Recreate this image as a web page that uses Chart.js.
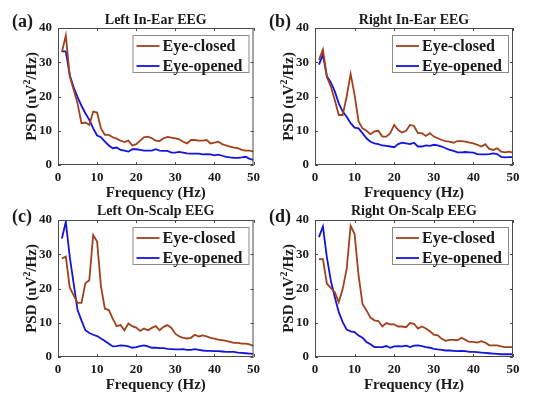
<!DOCTYPE html>
<html>
<head>
<meta charset="utf-8">
<script src="https://cdn.jsdelivr.net/npm/chart.js@4/dist/chart.umd.min.js"></script>
<style>
  html, body { margin: 0; padding: 0; background: #fff; }
  #wrap { position: relative; width: 550px; height: 397px; overflow: hidden; }
  .panel { position: absolute; }
</style>
</head>
<body>
<div id="wrap">
  <div class="panel" style="left:0;top:0;width:265px;height:200px"><canvas id="pa"></canvas></div>
  <div class="panel" style="left:265px;top:0;width:285px;height:200px"><canvas id="pb"></canvas></div>
  <div class="panel" style="left:0;top:200px;width:265px;height:197px"><canvas id="pc"></canvas></div>
  <div class="panel" style="left:265px;top:200px;width:285px;height:197px"><canvas id="pd"></canvas></div>
</div>
<script>
const freq = [1,2,3,4,5,6,7,8,9,10,11,12,13,14,15,16,17,18,19,20,21,22,23,24,25,
  26,27,28,29,30,31,32,33,34,35,36,37,38,39,40,41,42,43,44,45,46,47,48,49,50];

const leftEarClosed = [33,37.8,26,22,18,12.2,12.4,11.7,15.6,15.3,10.7,8.8,8.8,8.1,7.7,7.1,6.7,7.1,5.7,6.1,
  7.1,8.1,8.3,7.8,7.1,7.0,7.8,8.2,8.0,7.8,7.5,6.8,6.3,7.3,7.3,7.1,7.1,7.3,6.3,6.5,
  6.8,6.1,5.7,5.4,5.1,4.9,4.4,4.2,4.2,3.9];
const leftEarOpened = [33.2,33.2,26.3,22.7,19.8,17.3,15.1,13.2,10.7,8.6,8.1,6.8,5.7,4.9,5.1,4.4,4.2,3.9,4.6,4.6,
  4.4,4.2,4.2,4.2,4.6,4.2,4.1,4.1,3.6,3.6,3.8,3.6,3.4,3.3,3.3,3.3,3.1,3.2,3.1,2.8,
  3.0,2.7,2.4,2.2,2.1,2.1,2.2,2.4,1.8,1.5];

const rightEarClosed = [30.7,33.7,25.7,22.9,19,14.6,14.6,20,26.6,20.5,12.7,10.7,10,9,9.8,10,8.3,8.3,9.3,11.7,
  10.2,9.5,10,11.7,11.4,9.3,9.3,8.5,9.3,8.3,7.8,7.3,7.0,6.8,6.5,7.0,7.0,6.8,6.5,6.3,
  5.9,5.4,6.1,4.7,4.4,4.9,3.9,3.7,3.9,3.6];
const rightEarOpened = [29.3,32.2,25.9,24.1,21.5,18,15.6,14.1,12.2,10.9,10.7,9.3,7.8,6.8,6.3,6.1,5.7,5.6,5.4,5.2,
  6.1,6.5,6.3,6.1,6.5,5.4,5.4,5.7,5.6,5.9,5.7,5.4,4.9,4.4,4.1,3.7,3.7,3.8,3.7,3.6,
  3.2,3.1,3.1,3.2,3.4,3.2,2.4,2.2,2.3,2.3];

const leftScalpClosed = [28.8,29.3,20.3,18,15.8,15.8,21.5,22.4,35.6,33.7,20.5,14.1,13.7,11.2,9,9.3,7.8,9.8,9,8.6,
  7.6,8.3,7.8,8.5,9,7.8,8.8,9.3,8.5,6.8,6,5.6,5.4,5.6,6.5,6,6.3,6,5.6,5.4,
  5.1,4.9,4.7,4.4,4.1,4.1,3.9,3.9,3.7,3.2];
const leftScalpOpened = [34.6,39.5,29.3,21.5,13.7,10.7,7.8,7,6.5,6.1,5.4,4.7,3.9,3.1,3.2,3.4,3.3,3.1,2.7,2.9,
  3.2,3.4,3.1,2.7,2.7,2.6,2.6,2.4,2.3,2.2,2.2,2.3,2.1,2.1,2.3,2.1,1.9,1.8,1.8,1.7,
  1.7,1.6,1.5,1.5,1.5,1.3,1.2,1.1,1.0,0.9];

const rightScalpClosed = [28.6,28.6,21.4,20.2,18.9,16,19.9,25.7,38.3,35.9,23.8,15.5,13.6,11.5,10.7,10.5,8.9,9.9,9.5,9.5,
  8.9,8.9,8.7,9.9,9.7,8.3,8.9,8.3,7.5,6.5,6.3,5.3,4.7,5,5,4.9,5.6,5,4.4,4.4,
  4.2,4.6,4.2,3.4,3.4,3.4,3.1,2.9,2.9,2.9];
const rightScalpOpened = [35,38.1,29.1,22.3,17.5,13.1,10.2,8,7.5,7.3,6.3,5.6,4.4,3.7,2.9,2.9,2.9,3.2,2.7,3.1,
  3.2,3.1,3.3,2.9,3.3,3.4,3.2,2.9,2.7,2.4,2.2,2.1,1.9,1.9,1.8,1.7,1.8,1.7,1.5,1.5,
  1.4,1.3,1.2,1.1,1.0,0.9,0.8,0.8,0.8,0.8];

const xTicks = [0,10,20,30,40,50];
const yTicks = [0,10,20,30,40];
const seriesNames = ["Eye-closed", "Eye-opened"];

const BROWN = "#a3401c";
const BLUE = "#1414dc";
const SERIF = "'Liberation Serif', 'Times New Roman', serif";
const INK = "#1a1a1a";

const pts = (vals) => freq.map((f, i) => ({x: f, y: vals[i]}));

// text, box, inward ticks and legend drawn on top of the library's scales
const decor = {
  id: "decor",
  afterDraw(chart) {
    const o = chart.options.plugins.decor;
    const a = chart.chartArea, ctx = chart.ctx;
    const xs = chart.scales.x, ys = chart.scales.y;
    ctx.save();
    ctx.strokeStyle = "#4a4a4a";
    ctx.lineWidth = 1;
    ctx.strokeRect(a.left + 0.5, a.top + 0.5, a.right - a.left - 1, a.bottom - a.top - 1);
    ctx.beginPath();
    xTicks.forEach((v) => {
      const px = Math.round(xs.getPixelForValue(v)) + 0.5;
      ctx.moveTo(px, a.bottom); ctx.lineTo(px, a.bottom - 3);
      ctx.moveTo(px, a.top); ctx.lineTo(px, a.top + 3);
    });
    yTicks.forEach((v) => {
      const py = Math.round(ys.getPixelForValue(v)) + 0.5;
      ctx.moveTo(a.left, py); ctx.lineTo(a.left + 3, py);
      ctx.moveTo(a.right, py); ctx.lineTo(a.right - 3, py);
    });
    ctx.stroke();

    ctx.fillStyle = INK;
    ctx.textBaseline = "middle";
    ctx.textAlign = "center";
    ctx.font = "bold 14px " + SERIF;
    ctx.fillText(o.title, (a.left + a.right) / 2, a.top - o.titleGap);

    ctx.textAlign = "left";
    ctx.font = "bold 18px " + SERIF;
    ctx.fillText(o.tag, o.tagX, a.top - o.tagGap);

    ctx.textAlign = "center";
    ctx.font = "bold 15px " + SERIF;
    ctx.fillText("Frequency (Hz)", (a.left + a.right) / 2, a.bottom + 28);

    // rotated y label with superscript
    ctx.save();
    ctx.translate(a.left - 26, (a.top + a.bottom) / 2);
    ctx.rotate(-Math.PI / 2);
    const parts = [["PSD (uV", 15, 0], ["2", 10, -5], ["/Hz)", 15, 0]];
    let total = 0;
    parts.forEach((p) => { ctx.font = "bold " + p[1] + "px " + SERIF; total += ctx.measureText(p[0]).width; });
    let cx = -total / 2;
    ctx.textAlign = "left";
    parts.forEach((p) => {
      ctx.font = "bold " + p[1] + "px " + SERIF;
      ctx.fillText(p[0], cx, p[2]);
      cx += ctx.measureText(p[0]).width;
    });
    ctx.restore();

    // legend box
    const bx = a.right - 121, by = a.top + 7, bw = 117, bh = 38;
    ctx.fillStyle = "#fff";
    ctx.fillRect(bx, by, bw, bh);
    ctx.strokeStyle = "#8a8a8a";
    ctx.strokeRect(bx + 0.5, by + 0.5, bw - 1, bh - 1);
    ctx.font = "bold 16px " + SERIF;
    ctx.textAlign = "left";
    chart.data.datasets.forEach((ds, i) => {
      const ly = by + 11 + i * 20;
      ctx.strokeStyle = ds.borderColor;
      ctx.lineWidth = 1.8;
      ctx.beginPath(); ctx.moveTo(bx + 4, ly); ctx.lineTo(bx + 27, ly); ctx.stroke();
      ctx.fillStyle = INK;
      ctx.fillText(ds.label, bx + 30, ly + 1);
    });
    ctx.restore();
  }
};

function panel(id, cfg) {
  const el = document.getElementById(id);
  const W = cfg.w, H = cfg.h;
  el.width = W; el.height = H;
  el.style.width = W + "px"; el.style.height = H + "px";
  new Chart(el, {
    type: "line",
    data: {
      datasets: [
        { label: seriesNames[0], data: pts(cfg.closed), borderColor: BROWN, borderWidth: 1.8, pointRadius: 0, tension: 0 },
        { label: seriesNames[1], data: pts(cfg.opened), borderColor: BLUE, borderWidth: 1.8, pointRadius: 0, tension: 0 },
      ],
    },
    options: {
      responsive: false,
      animation: false,
      devicePixelRatio: 1,
      layout: { padding: { left: 0, top: cfg.T, right: W - cfg.R, bottom: 0 } },
      plugins: {
        legend: { display: false },
        tooltip: { enabled: false },
        decor: { title: cfg.title, tag: cfg.tag, tagX: cfg.tagX, titleGap: cfg.titleGap, tagGap: cfg.tagGap },
      },
      scales: {
        x: {
          type: "linear", min: 0, max: 50,
          afterBuildTicks: (s) => { s.ticks = xTicks.map((v) => ({value: v})); },
          afterFit: (s) => { s.height = H - cfg.B; },
          grid: { display: false, drawTicks: false }, border: { display: false },
          ticks: { color: INK, padding: 5, maxRotation: 0, font: { family: SERIF, size: 13, weight: "bold" } },
        },
        y: {
          min: 0, max: 40,
          afterBuildTicks: (s) => { s.ticks = yTicks.map((v) => ({value: v})); },
          afterFit: (s) => { s.width = cfg.L; },
          grid: { display: false, drawTicks: false }, border: { display: false },
          ticks: { color: INK, padding: 6, font: { family: SERIF, size: 13, weight: "bold" } },
        },
      },
    },
    plugins: [decor],
  });
}

panel("pa", { w: 265, h: 200, L: 58, T: 28, R: 254, B: 165, title: "Left In-Ear EEG", tag: "(a)", tagX: 12, titleGap: 8, tagGap: 6,
  closed: leftEarClosed, opened: leftEarOpened });
panel("pb", { w: 285, h: 200, L: 50, T: 28, R: 248, B: 165, title: "Right In-Ear EEG", tag: "(b)", tagX: 4, titleGap: 8, tagGap: 6,
  closed: rightEarClosed, opened: rightEarOpened });
panel("pc", { w: 265, h: 197, L: 58, T: 20, R: 254, B: 157, title: "Left On-Scalp EEG", tag: "(c)", tagX: 12, titleGap: 9, tagGap: 3,
  closed: leftScalpClosed, opened: leftScalpOpened });
panel("pd", { w: 285, h: 197, L: 50, T: 20, R: 248, B: 157, title: "Right On-Scalp EEG", tag: "(d)", tagX: 4, titleGap: 9, tagGap: 3,
  closed: rightScalpClosed, opened: rightScalpOpened });
</script>
</body>
</html>
